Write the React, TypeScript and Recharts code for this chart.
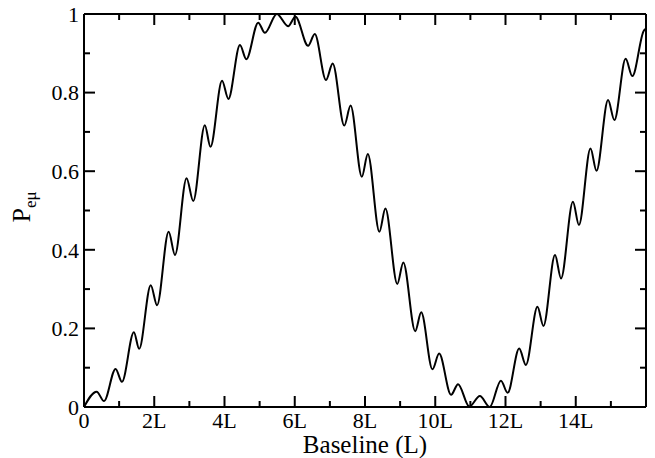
import React from 'react';
import { LineChart, Line, XAxis, YAxis } from 'recharts';

// Baseline (in units of L) and oscillation probability
const baseline = [
  0, 0.36, 0.57, 0.9, 1.08, 1.42, 1.57, 1.9, 2.08, 2.41, 2.59, 2.92, 3.11, 3.44, 3.6,
  3.93, 4.11, 4.44, 4.62, 4.96, 5.15, 5.49, 5.81, 6.02, 6.38, 6.57, 6.89, 7.08, 7.41,
  7.59, 7.91, 8.08, 8.41, 8.58, 8.92, 9.09, 9.43, 9.6, 9.92, 10.11, 10.45, 10.65,
  10.97, 11.27, 11.55, 11.87, 12.06, 12.39, 12.58, 12.91, 13.08, 13.41, 13.58, 13.92,
  14.09, 14.42, 14.59, 14.92, 15.1, 15.42, 15.61, 15.94, 16.0,
];
const probability = [
  0, 0.039, 0.015, 0.097, 0.064, 0.19, 0.148, 0.31, 0.259, 0.446, 0.387, 0.582, 0.524,
  0.717, 0.662, 0.83, 0.784, 0.921, 0.885, 0.978, 0.952, 1.0, 0.969, 0.993, 0.919,
  0.949, 0.832, 0.874, 0.716, 0.767, 0.586, 0.644, 0.446, 0.505, 0.313, 0.368, 0.193,
  0.241, 0.096, 0.136, 0.031, 0.058, 0.001, 0.028, 0.0, 0.067, 0.036, 0.149, 0.107,
  0.255, 0.206, 0.387, 0.327, 0.522, 0.463, 0.658, 0.601, 0.781, 0.73, 0.886, 0.842,
  0.958, 0.962,
];

const X_TICKS = [0, 1, 2, 3, 4, 5, 6, 7, 8, 9, 10, 11, 12, 13, 14, 15];
const X_LABELS: Record<number, string> = {
  0: '0', 2: '2L', 4: '4L', 6: '6L', 8: '8L', 10: '10L', 12: '12L', 14: '14L',
};
const Y_TICKS = [0, 0.1, 0.2, 0.3, 0.4, 0.5, 0.6, 0.7, 0.8, 0.9, 1];
const Y_LABELS: Record<string, string> = {
  '0': '0', '0.2': '0.2', '0.4': '0.4', '0.6': '0.6', '0.8': '0.8', '1': '1',
};

const data = baseline.map((x, i) => ({ x, p: probability[i] }));

const FONT = "'Liberation Serif', 'Times New Roman', 'DejaVu Serif', serif";

const isMajorX = (v: number) => v % 2 === 0;
const isMajorY = (v: number) => Math.round(v * 10) % 2 === 0;

const textStyle = (size: number): React.CSSProperties => ({
  fontFamily: FONT,
  fontSize: size,
  fill: '#000',
});

const BottomTick = (props: any) => {
  const { x, y, payload } = props;
  const v = payload.value;
  const major = isMajorX(v);
  const label = X_LABELS[v];
  return (
    <g>
      <line x1={x} x2={x} y1={y} y2={y - (major ? 11 : 6)} stroke="#000" strokeWidth={2} />
      {label ? (
        <text x={x} y={y + 21} textAnchor="middle" style={textStyle(22)}>
          {label}
        </text>
      ) : null}
    </g>
  );
};

const TopTick = (props: any) => {
  const { x, y, payload } = props;
  const major = isMajorX(payload.value);
  return <line x1={x} x2={x} y1={y} y2={y + (major ? 11 : 6)} stroke="#000" strokeWidth={2} />;
};

const LeftTick = (props: any) => {
  const { x, y, payload } = props;
  const v = payload.value;
  const major = isMajorY(v);
  const label = Y_LABELS[String(v)];
  return (
    <g>
      <line x1={x} x2={x + (major ? 11 : 6)} y1={y} y2={y} stroke="#000" strokeWidth={2} />
      {label ? (
        <text x={x - 5} y={y} dy="0.35em" textAnchor="end" style={textStyle(22)}>
          {label}
        </text>
      ) : null}
    </g>
  );
};

const RightTick = (props: any) => {
  const { x, y, payload } = props;
  const major = isMajorY(payload.value);
  return <line x1={x} x2={x - (major ? 11 : 6)} y1={y} y2={y} stroke="#000" strokeWidth={2} />;
};

const YTitle = () => (
  <text transform="translate(30,207) rotate(-90)" textAnchor="middle" style={textStyle(26)}>
    P
    <tspan style={{ fontSize: 17 }} dy={6}>
      eμ
    </tspan>
  </text>
);

const XTitle = () => (
  <text x={365} y={453} textAnchor="middle" style={textStyle(25)}>
    Baseline (L)
  </text>
);

export default function App() {
  return (
    <div style={{ position: 'absolute', left: 0, top: 0, width: 655, height: 458, background: '#fff', fontFamily: FONT }}>
      <LineChart
        width={655}
        height={458}
        data={data}
        margin={{ top: 0, right: 0, bottom: 0, left: 0 }}
        style={{ fontFamily: FONT }}
      >
        <XAxis
          xAxisId="bottom"
          dataKey="x"
          type="number"
          domain={[0, 16]}
          allowDataOverflow
          ticks={X_TICKS}
          interval={0}
          orientation="bottom"
          height={51}
          tickSize={0}
          tickMargin={0}
          tickLine={false}
          axisLine={{ stroke: '#000', strokeWidth: 2 }}
          tick={<BottomTick />}
          label={{ content: () => <XTitle /> }}
        />
        <XAxis
          xAxisId="top"
          dataKey="x"
          type="number"
          domain={[0, 16]}
          allowDataOverflow
          ticks={X_TICKS}
          interval={0}
          orientation="top"
          height={14}
          tickSize={0}
          tickMargin={0}
          tickLine={false}
          axisLine={{ stroke: '#000', strokeWidth: 2 }}
          tick={<TopTick />}
        />
        <YAxis
          yAxisId="left"
          type="number"
          domain={[0, 1]}
          allowDataOverflow
          ticks={Y_TICKS}
          interval={0}
          orientation="left"
          width={84}
          tickSize={0}
          tickMargin={0}
          tickLine={false}
          axisLine={{ stroke: '#000', strokeWidth: 2 }}
          tick={<LeftTick />}
          label={{ content: () => <YTitle /> }}
        />
        <YAxis
          yAxisId="right"
          type="number"
          domain={[0, 1]}
          allowDataOverflow
          ticks={Y_TICKS}
          interval={0}
          orientation="right"
          width={9}
          tickSize={0}
          tickMargin={0}
          tickLine={false}
          axisLine={{ stroke: '#000', strokeWidth: 2 }}
          tick={<RightTick />}
        />
        <Line
          xAxisId="top"
          yAxisId="right"
          type="monotone"
          dataKey="p"
          stroke="none"
          dot={false}
          activeDot={false}
          isAnimationActive={false}
        />
        <Line
          xAxisId="bottom"
          yAxisId="left"
          type="monotone"
          dataKey="p"
          stroke="#000"
          strokeWidth={2}
          dot={false}
          activeDot={false}
          isAnimationActive={false}
        />
      </LineChart>
    </div>
  );
}
